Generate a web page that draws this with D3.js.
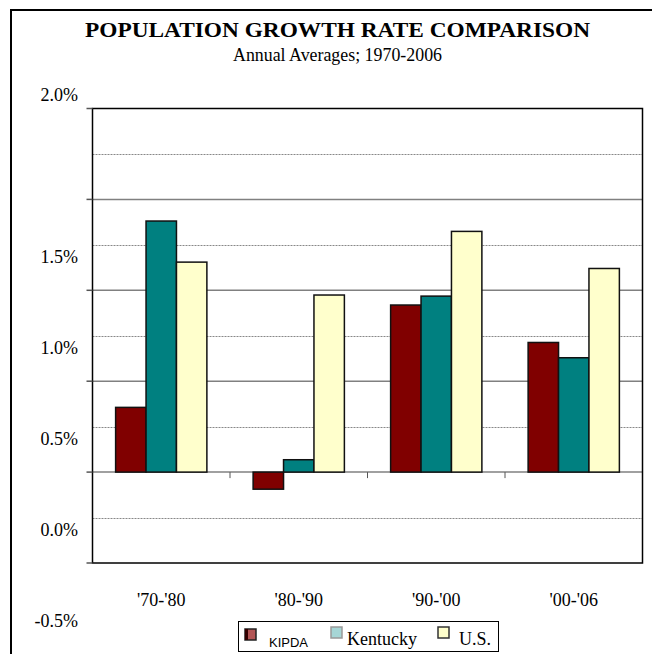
<!DOCTYPE html>
<html>
<head>
<meta charset="utf-8">
<script src="https://cdn.jsdelivr.net/npm/d3@7"></script>
<style>
  body { margin: 0; background: #fff; }
  svg { display: block; }
</style>
</head>
<body>
<div id="chart"></div>
<script>
var chartWidth = 652;
var chartHeight = 654;

// Data
var categories = ["'70-'80", "'80-'90", "'90-'00", "'00-'06"];
var seriesNames = ['KIPDA', 'Kentucky', 'U.S.'];
var kipda = [0.356, -0.094, 0.919, 0.713];
var kentucky = [1.381, 0.068, 0.968, 0.629];
var us = [1.155, 0.974, 1.324, 1.120];
var tickValues = [2.0, 1.5, 1.0, 0.5, 0.0, -0.5];
var tickLabels = ['2.0%', '1.5%', '1.0%', '0.5%', '0.0%', '-0.5%'];
var gridMajor = [1.5, 1.0, 0.5, 0.0];
var gridMinor = [1.75, 1.25, 0.75, 0.25, -0.25];

var seriesValues = [kipda, kentucky, us];
var barColors = ['#800000', '#008080', '#ffffcc'];
var swatchFill = ['#b35555', '#a6d6d6', '#ffffcc'];
var swatchStroke = ['#222', '#999', '#333'];

var plot = {left: 92.5, right: 642.5, top: 108.5, bottom: 563};

var svg = d3.select('#chart')
    .append('svg')
    .attr('width', chartWidth)
    .attr('height', chartHeight);

// Outer frame
svg.append('rect')
    .attr('x', 11)
    .attr('y', 10)
    .attr('width', 660)
    .attr('height', 660)
    .attr('fill', 'none')
    .attr('stroke', '#000')
    .attr('stroke-width', 2);

// Titles
svg.append('text')
    .text('POPULATION GROWTH RATE COMPARISON')
    .attr('x', 85)
    .attr('y', 37)
    .attr('textLength', 505)
    .attr('lengthAdjust', 'spacingAndGlyphs')
    .attr('font-family', '"Liberation Serif", "Times New Roman", serif')
    .attr('font-weight', 'bold')
    .attr('font-size', 21);

svg.append('text')
    .text('Annual Averages; 1970-2006')
    .attr('x', 233)
    .attr('y', 61)
    .attr('textLength', 209)
    .attr('lengthAdjust', 'spacingAndGlyphs')
    .attr('font-family', '"Liberation Serif", "Times New Roman", serif')
    .attr('font-size', 18);

// Scales
var scaleX = d3.scaleBand()
    .domain(categories)
    .range([plot.left, plot.right]);

var scaleS = d3.scaleBand()
    .domain(seriesNames)
    .range([0, scaleX.bandwidth()])
    .paddingOuter(0.76);

var scaleY = d3.scaleLinear()
    .domain([-0.5, 2.0])
    .range([plot.bottom, plot.top]);

// Gridlines
svg.selectAll('line.minor')
    .data(gridMinor)
    .enter()
    .append('line')
    .attr('class', 'minor')
    .attr('x1', plot.left)
    .attr('x2', plot.right)
    .attr('y1', function(d) { return Math.round(scaleY(d)) + 0.5; })
    .attr('y2', function(d) { return Math.round(scaleY(d)) + 0.5; })
    .attr('stroke', '#888')
    .attr('stroke-width', 1)
    .attr('stroke-dasharray', '2,1');

svg.selectAll('line.major')
    .data(gridMajor)
    .enter()
    .append('line')
    .attr('class', 'major')
    .attr('x1', plot.left)
    .attr('x2', plot.right)
    .attr('y1', function(d) { return scaleY(d); })
    .attr('y2', function(d) { return scaleY(d); })
    .attr('stroke', '#808080')
    .attr('stroke-width', 1.5);

// Bars
var groups = svg.selectAll('g.series')
    .data(seriesValues)
    .enter()
    .append('g')
    .attr('class', 'series')
    .attr('fill', function(d, i) { return barColors[i]; });

groups.each(function(values, si) {
  d3.select(this).selectAll('rect')
      .data(values)
      .enter()
      .append('rect')
      .attr('x', function(d, i) {
        return scaleX(categories[i]) + scaleS(seriesNames[si]);
      })
      .attr('y', function(d) { return scaleY(Math.max(0, d)); })
      .attr('width', scaleS.bandwidth())
      .attr('height', function(d) {
        return Math.abs(scaleY(d) - scaleY(0));
      })
      .attr('stroke', '#111')
      .attr('stroke-width', 1.5);
});

// Plot border
svg.append('rect')
    .attr('x', plot.left)
    .attr('y', plot.top)
    .attr('width', plot.right - plot.left)
    .attr('height', plot.bottom - plot.top)
    .attr('fill', 'none')
    .attr('stroke', '#000')
    .attr('stroke-width', 1.5);

// Y ticks and labels
svg.selectAll('line.ytick')
    .data(tickValues)
    .enter()
    .append('line')
    .attr('class', 'ytick')
    .attr('x1', plot.left - 6)
    .attr('x2', plot.left)
    .attr('y1', function(d) { return scaleY(d); })
    .attr('y2', function(d) { return scaleY(d); })
    .attr('stroke', '#555')
    .attr('stroke-width', 1.5);

svg.selectAll('text.ylabel')
    .data(tickValues)
    .enter()
    .append('text')
    .attr('class', 'ylabel')
    .text(function(d, i) { return tickLabels[i]; })
    .attr('x', 78)
    .attr('y', function(d, i) {
      // labels sit oddly below their gridlines in the original
      return i === 0 ? scaleY(d) - 8 : scaleY(d) + 64;
    })
    .attr('text-anchor', 'end')
    .attr('font-family', '"Liberation Serif", "Times New Roman", serif')
    .attr('font-size', 18);

// Category ticks on the zero line
svg.selectAll('line.xtick')
    .data(categories.slice(1))
    .enter()
    .append('line')
    .attr('class', 'xtick')
    .attr('x1', function(d) { return scaleX(d); })
    .attr('x2', function(d) { return scaleX(d); })
    .attr('y1', scaleY(0))
    .attr('y2', scaleY(0) + 6)
    .attr('stroke', '#555')
    .attr('stroke-width', 1);

svg.selectAll('text.xlabel')
    .data(categories)
    .enter()
    .append('text')
    .attr('class', 'xlabel')
    .text(function(d) { return d; })
    .attr('x', function(d) { return scaleX(d) + scaleX.bandwidth() / 2; })
    .attr('y', 606)
    .attr('text-anchor', 'middle')
    .attr('font-family', '"Liberation Serif", "Times New Roman", serif')
    .attr('font-size', 18);

// Legend
var legend = svg.append('g');

legend.append('rect')
    .attr('x', 238.5)
    .attr('y', 621.5)
    .attr('width', 260)
    .attr('height', 30)
    .attr('fill', '#fff')
    .attr('stroke', '#000')
    .attr('stroke-width', 1);

var legendX = [245, 331, 438];
var legendTextX = [269, 347, 459];

legend.selectAll('rect.swatch')
    .data(seriesNames)
    .enter()
    .append('rect')
    .attr('class', 'swatch')
    .attr('x', function(d, i) { return legendX[i]; })
    .attr('y', function(d, i) { return i === 0 ? 629 : 627; })
    .attr('width', 11)
    .attr('height', 11)
    .attr('fill', function(d, i) { return swatchFill[i]; })
    .attr('stroke', function(d, i) { return swatchStroke[i]; })
    .attr('stroke-width', 1.5);

legend.append('rect')
    .attr('x', legendX[0])
    .attr('y', 629)
    .attr('width', 3)
    .attr('height', 11)
    .attr('fill', '#300');

legend.selectAll('text')
    .data(seriesNames)
    .enter()
    .append('text')
    .text(function(d) { return d; })
    .attr('x', function(d, i) { return legendTextX[i]; })
    .attr('y', function(d, i) { return i === 0 ? 647 : 645; })
    .attr('font-family', function(d, i) {
      return i === 0 ? '"Liberation Sans", Arial, sans-serif' : '"Liberation Serif", "Times New Roman", serif';
    })
    .attr('font-size', function(d, i) { return i === 0 ? 13 : 18; });
</script>
</body>
</html>
